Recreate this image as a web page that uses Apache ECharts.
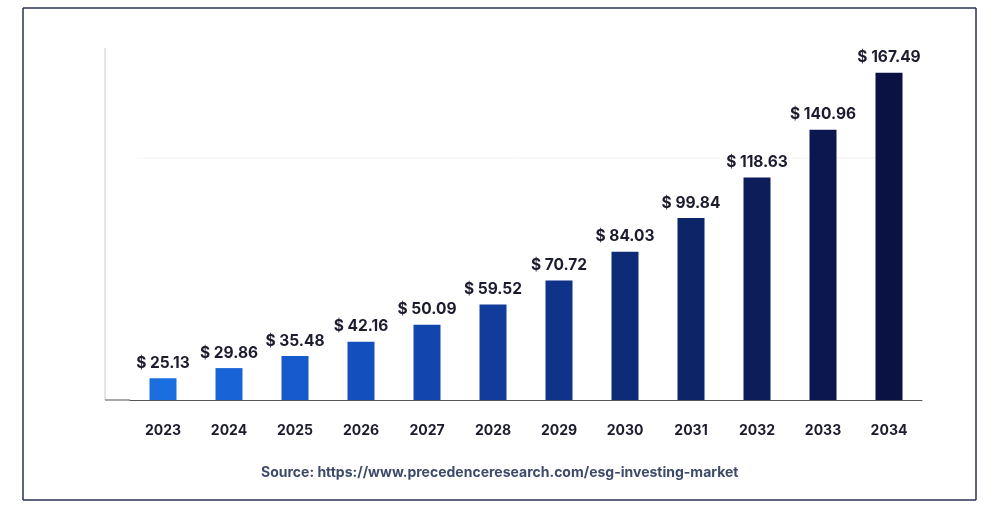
<!DOCTYPE html>
<html><head><meta charset="utf-8">
<script src="https://cdn.jsdelivr.net/npm/echarts@6/dist/echarts.min.js"></script>
<style>html,body{margin:0;background:#fff}#c{width:988px;height:520px}</style>
</head><body><div id="c"></div>
<script>
var years = ['2023','2024','2025','2026','2027','2028','2029','2030','2031','2032','2033','2034'];
var values = [25.13, 29.86, 35.48, 42.16, 50.09, 59.52, 70.72, 84.03, 99.84, 118.63, 140.96, 167.49];
var barColors = ['#1a6ee0','#1864d6','#165acb','#1450bd','#1245ad','#113c9c','#10338a','#0e2b78','#0d2468','#0c1d5a','#0b174e','#0a1243'];

var chart = echarts.init(document.getElementById('c'));
chart.setOption({
  backgroundColor: '#fff',
  animation: false,
  grid: { left: 130, right: 66, top: 48, bottom: 120 },
  xAxis: {
    type: 'category', data: years,
    axisLine: { lineStyle: { color: '#555', width: 1 } },
    axisTick: { show: false },
    axisLabel: { color: '#1c1c2e', fontWeight: 'bold', fontSize: 14, margin: 24, fontFamily: 'Inter' }
  },
  yAxis: {
    type: 'value', min: 15, max: 179,
    axisLine: { show: false }, axisLabel: { show: false },
    splitLine: { show: false }
  },
  series: [{
    type: 'bar', barWidth: 27,
    data: values.map(function (v, i) { return { value: v, itemStyle: { color: barColors[i] } }; }),
    label: {
      show: true, position: 'top', distance: 7,
      formatter: function (p) { return '$ ' + p.value.toFixed(2); },
      color: '#1c1c2e', fontWeight: 'bold', fontSize: 15.5, fontFamily: 'Inter'
    }
  }],
  graphic: [
    { type: 'line', shape: { x1: 137, y1: 158, x2: 900, y2: 158 }, style: { stroke: '#f3f3f5', lineWidth: 1 } },
    { type: 'line', shape: { x1: 105, y1: 48, x2: 105, y2: 400 }, style: { stroke: '#ccc', lineWidth: 1 } },
    { type: 'line', shape: { x1: 105, y1: 400, x2: 130, y2: 400 }, style: { stroke: '#555', lineWidth: 1 } },
    { type: 'line', shape: { x1: 23, y1: 8, x2: 976, y2: 8 }, style: { stroke: '#2a3250', lineWidth: 1.5 } },
    { type: 'line', shape: { x1: 23, y1: 8, x2: 23, y2: 500 }, style: { stroke: '#2a3250', lineWidth: 1.5 } },
    { type: 'line', shape: { x1: 976, y1: 8, x2: 976, y2: 500 }, style: { stroke: '#2a3250', lineWidth: 1.5 } },
    { type: 'line', shape: { x1: 23, y1: 500, x2: 976, y2: 500 }, style: { stroke: '#2a3250', lineWidth: 1.5 } },
    { type: 'text', left: 261, top: 466,
      style: { text: 'Source: https://www.precedenceresearch.com/esg-investing-market', fill: '#3d4a6a', font: 'bold 14px Inter' } }
  ]
});
</script></body></html>
